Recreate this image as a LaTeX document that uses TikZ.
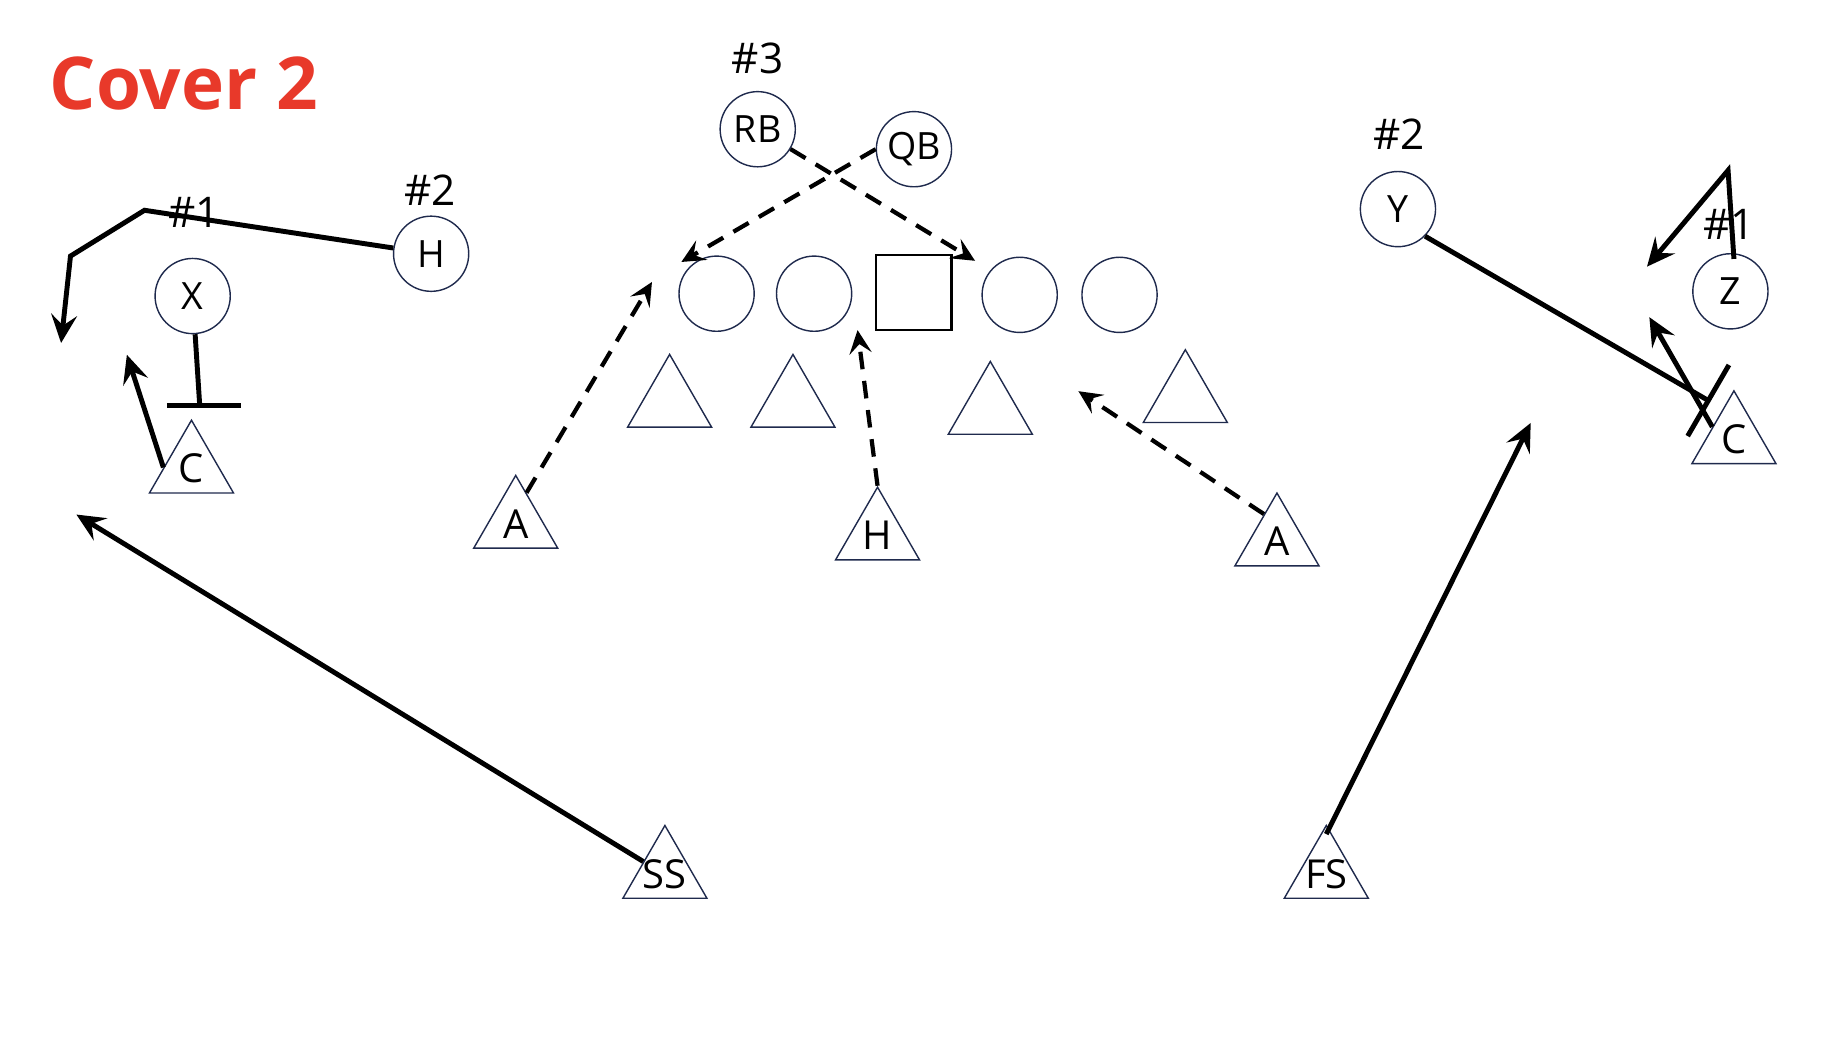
\documentclass[tikz,border=0pt]{standalone}
\usepackage{fontspec}
\setmainfont{Open Sans}
\usetikzlibrary{arrows.meta,calc,shapes.geometric}
\definecolor{navy}{HTML}{1F2A4D}
\definecolor{titlered}{HTML}{E8392A}
\tikzset{
 player/.style={circle,draw=navy,line width=.6pt,minimum size=32pt,inner sep=0,font=\fontsize{16}{16}\selectfont},
 snapper/.style={rectangle,draw,line width=.9pt,minimum size=32pt,inner sep=0},
 defender/.style={regular polygon,regular polygon sides=3,draw=navy,line width=.6pt,minimum size=41.3pt,inner sep=0,font=\fontsize{17}{17}\selectfont},
 tag/.style={inner sep=0,font=\fontsize{18}{18}\selectfont},
 route/.style={line width=2.1pt},
 dashroute/.style={line width=1.8pt,dash pattern=on 7.5pt off 5pt},
 runarrow/.style={-{Stealth[length=12pt,width=11pt,inset=4.5pt]}},
 dasharrow/.style={-{Stealth[length=10pt,width=9.5pt,inset=4pt]}},
 blockbar/.style={-{Bar[width=#1]}}
}
\begin{document}
\begin{tikzpicture}[x=.5pt,y=-.5pt]
\path[use as bounding box] (0,0) rectangle (1568,904);
\node[anchor=base west,inner sep=0,text=titlered,font=\bfseries\fontsize{31}{31}\selectfont] (title) at (42,93) {Cover 2};
% offense
\node[player] (RB) at (645,110) {RB};
\node[player] (QB) at (778,127) {QB};
\node[player] (X) at (164,252) {X};
\node[player] (H) at (367,216) {H};
\node[player] (Y) at (1190,178) {Y};
\node[player] (Z) at (1473,248) {Z};
\node[player] (LT) at (610,250) {};
\node[player] (LG) at (693,250) {};
\node[snapper] (OC) at (778,249) {};
\node[player] (RG) at (868,251) {};
\node[player] (RT) at (953,251) {};
\node[tag] (n3) at (645,50) {\#3};
\node[tag] (n2l) at (366,162) {\#2};
\node[tag] (n1l) at (165,181) {\#1};
\node[tag] (n2r) at (1191,114) {\#2};
\node[tag] (n1r) at (1472,191) {\#1};
% defense
\node[defender] (DE1) at (570,343) {};
\node[defender] (DT1) at (675,343) {};
\node[defender] (DT2) at (843,349) {};
\node[defender] (DE2) at (1009,339) {};
\node[defender] (CL) at (163,399) {\makebox[0pt]{C}};
\node[defender] (AL) at (439,446) {\makebox[0pt]{A}};
\node[defender] (HT) at (747,456) {\makebox[0pt]{H}};
\node[defender] (AR) at (1087,461) {\makebox[0pt]{A}};
\node[defender] (CR) at (1476,374) {\makebox[0pt]{C}};
\node[defender] (SS) at (566,744) {\makebox[0pt]{SS}};
\node[defender] (FS) at (1129,744) {\makebox[0pt]{FS}};
% routes
\coordinate (h1) at (123,179);
\coordinate (h2) at (60,218);
\coordinate (h3) at (52,292);
\draw[route,runarrow] (H) -- (h1) -- (h2) -- (h3);
\coordinate (xb) at (170,345);
\draw[route] (X) -- (xb);
\draw[route] ($(xb)+(-28,0)$) -- ($(xb)+(35,0)$);
\coordinate (yb) at (1456,342);
\draw[route,blockbar=35pt] (Y.south east) -- (yb);
\coordinate (z1) at (1471,145);
\coordinate (z2) at (1402,227);
\draw[route,runarrow] ($(Z.north)+(3,5)$) -- (z1) -- (z2);
\coordinate (rb) at (830,222);
\draw[dashroute,dasharrow] (RB) -- (rb);
\coordinate (qb) at (580,223);
\draw[dashroute,dasharrow] (QB.west) -- (qb);
% drops and blitzes
\coordinate (cl) at (108,302);
\draw[route,runarrow] ($(CL.corner 1)!.65!(CL.corner 2)$) -- (cl);
\coordinate (cr) at (1404,270);
\draw[route,runarrow] (CR.side 1) -- (cr);
\coordinate (ss) at (65,438);
\draw[route,runarrow] (SS.side 1) -- (ss);
\coordinate (fs) at (1303,360);
\draw[route,runarrow] ($(FS.corner 1)!.2!(FS.center)$) -- (fs);
\coordinate (al) at (555,240);
\draw[dashroute,dasharrow] ($(AL.corner 1)!.25!(AL.corner 3)$) -- (al);
\coordinate (ht) at (730,281);
\draw[dashroute,dasharrow] (HT.corner 1) -- (ht);
\coordinate (ar) at (918,333);
\draw[dashroute,dasharrow] ($(AR.corner 1)!.3!(AR.corner 2)$) -- (ar);
\end{tikzpicture}
\end{document}
